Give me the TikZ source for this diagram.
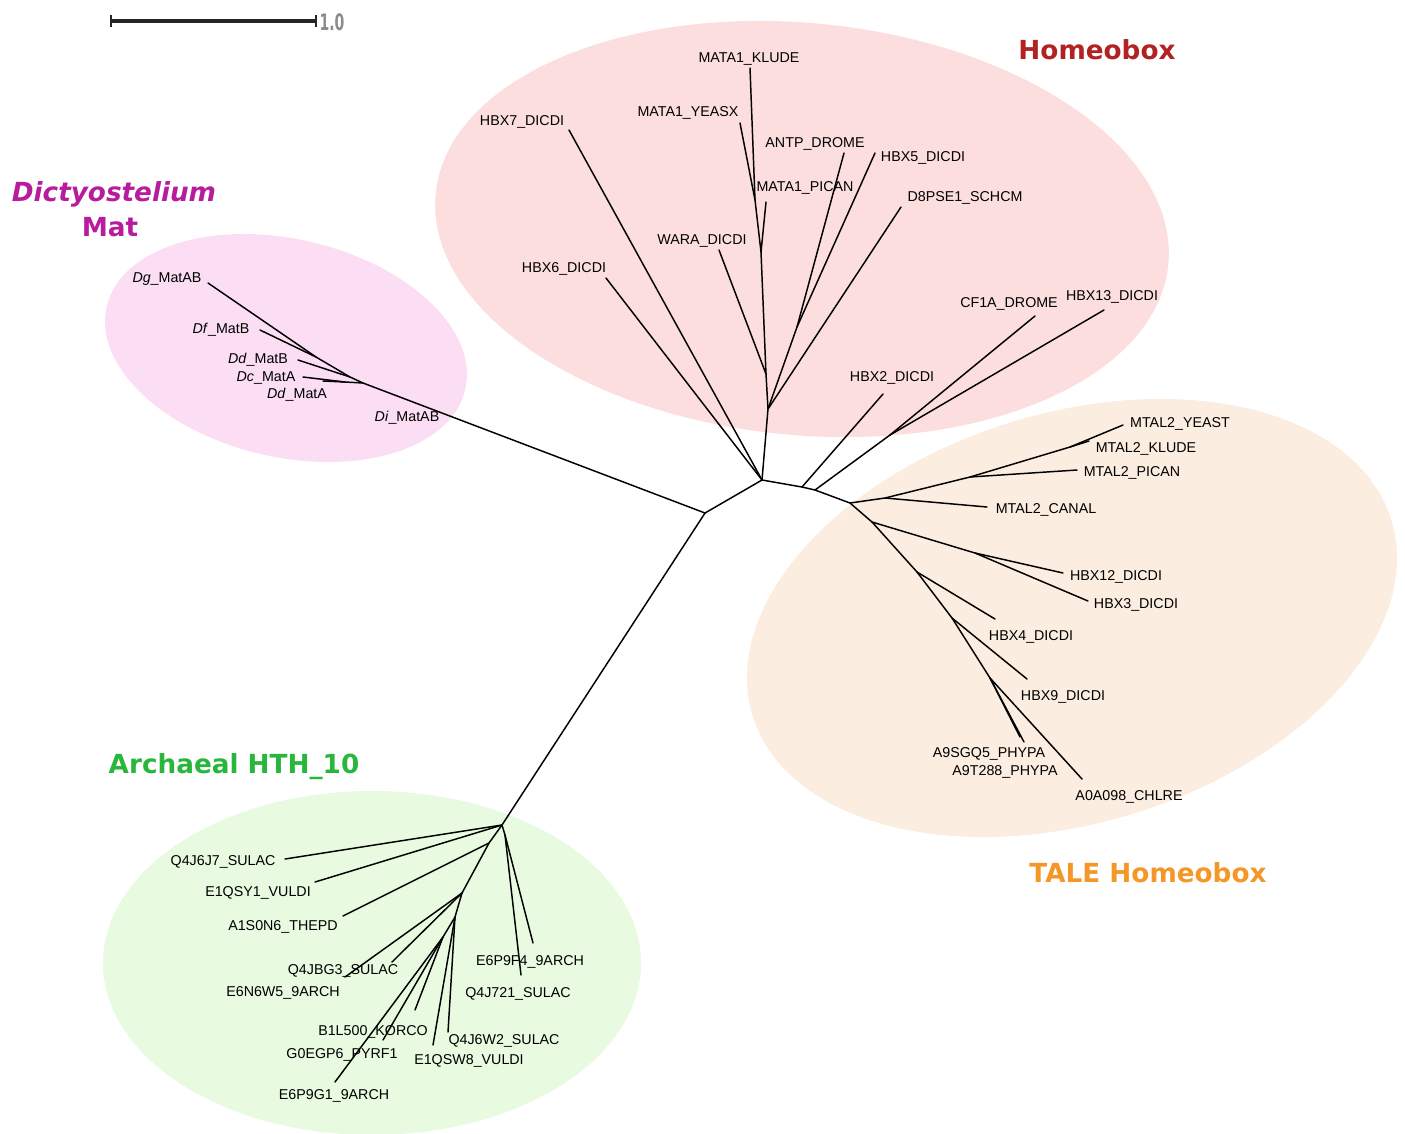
\documentclass[tikz,border=0pt]{standalone}
\usepackage{fontspec}
\setmainfont{Liberation Sans}
\newfontfamily\cladefont{DejaVu Sans}
\usetikzlibrary{positioning}
\definecolor{dictyfill}{RGB}{252,222,244}
\definecolor{homeofill}{RGB}{252,222,222}
\definecolor{talefill}{RGB}{251,237,223}
\definecolor{archfill}{RGB}{232,250,224}
\definecolor{dictytext}{RGB}{183,28,157}
\definecolor{homeotext}{RGB}{178,34,34}
\definecolor{taletext}{RGB}{245,150,40}
\definecolor{archtext}{RGB}{40,182,60}

\begin{document}
\begin{tikzpicture}[
    x=0.75pt, y=-0.75pt,
    branch/.style={line width=1.1pt, black, line cap=round},
    leaf/.style={inner sep=0pt, yshift=-1.5pt, font=\fontsize{10.7}{12}\selectfont},
    clade/.style={inner sep=0pt, yshift=-1.5pt, font=\cladefont\bfseries\fontsize{19.7}{23}\selectfont},
    blob/.style={fill=#1, draw=none}
]
\clip (0,0) rectangle (1405,1133);

% Clade backgrounds
\fill[blob=dictyfill, rotate around={-13:(286,348)}] (286,348) ellipse [x radius=184, y radius=109];
\fill[blob=homeofill, rotate around={-5.5:(802,229)}] (802,229) ellipse [x radius=368, y radius=206];
\fill[blob=talefill, rotate around={17:(1072,618)}] (1072,618) ellipse [x radius=334, y radius=205];
\fill[blob=archfill] (372,963) ellipse [x radius=269, y radius=172];

% Scale bar
\coordinate (s0) at (111,21);
\coordinate (s1) at (316,21);
\draw[line width=2.5pt, black!85] (s0) -- (s1);
\draw[line width=2.2pt, black!85] ([yshift=4.5pt]s0) -- ([yshift=-4.5pt]s0);
\draw[line width=2.2pt, black!85] ([yshift=4.5pt]s1) -- ([yshift=-4.5pt]s1);
\node[inner sep=0pt, text=black!45, font=\cladefont\bfseries\fontsize{17}{17}\selectfont] (scale) at (332,22) {\scalebox{0.62}[1]{1.0}};

% Backbone
\coordinate (A) at (705,513);
\coordinate (B) at (762,480);
\coordinate (C) at (802,487);
\coordinate (D) at (815,490);
\coordinate (E) at (850,503);
\draw[branch] (A) -- (B) -- (C) -- (D) -- (E);

% Dictyostelium Mat
\coordinate (dA) at (363,383);
\coordinate (dB) at (345,382);
\coordinate (dC) at (350,377);
\coordinate (dD) at (316,357);
\coordinate (tDg) at (208,283);
\coordinate (tDf) at (260,330);
\coordinate (tDdB) at (298,360);
\coordinate (tDc) at (303,377);
\coordinate (tDdA) at (323,381);
\draw[branch] (A) -- (dA);
\draw[branch] (dA) -- (dB) -- (tDc);
\draw[branch] (dB) -- (tDdA);
\draw[branch] (dA) -- (dC) -- (tDdB);
\draw[branch] (dC) -- (dD) -- (tDg);
\draw[branch] (dD) -- (tDf);
\node[leaf] (lDg) at (167,277) {\textit{Dg}\_MatAB};
\node[leaf] (lDf) at (221,328) {\textit{Df}\_MatB};
\node[leaf] (lDdB) at (258,358) {\textit{Dd}\_MatB};
\node[leaf] (lDc) at (266,376) {\textit{Dc}\_MatA};
\node[leaf] (lDdA) at (297,393) {\textit{Dd}\_MatA};
\node[leaf] (lDi) at (407,416) {\textit{Di}\_MatAB};

% Homeobox
\coordinate (hA) at (768,409);
\coordinate (hW) at (766,374);
\coordinate (hM) at (761,252);
\coordinate (hK) at (755,200);
\coordinate (hD) at (797,327);
\coordinate (hC) at (890,435);
\coordinate (tKLUDE) at (750,68);
\coordinate (tYEASX) at (740,123);
\coordinate (tPICAN) at (766,202);
\coordinate (tWARA) at (719,250);
\coordinate (tANTP) at (844,153);
\coordinate (tHBX5) at (875,153);
\coordinate (tD8PSE1) at (901,207);
\coordinate (tHBX7) at (569,130);
\coordinate (tHBX6) at (606,278);
\coordinate (tHBX2) at (883,394);
\coordinate (tCF1A) at (1035,316);
\coordinate (tHBX13) at (1104,310);
\draw[branch] (B) -- (hA) -- (hW) -- (hM) -- (hK) -- (tKLUDE);
\draw[branch] (hK) -- (tYEASX);
\draw[branch] (hM) -- (tPICAN);
\draw[branch] (hW) -- (tWARA);
\draw[branch] (hA) -- (hD) -- (tANTP);
\draw[branch] (hD) -- (tHBX5);
\draw[branch] (hA) -- (tD8PSE1);
\draw[branch] (B) -- (tHBX7);
\draw[branch] (B) -- (tHBX6);
\draw[branch] (C) -- (tHBX2);
\draw[branch] (D) -- (hC) -- (tCF1A);
\draw[branch] (hC) -- (tHBX13);
\node[leaf] (lKLUDE) at (749,57) {MATA1\_KLUDE};
\node[leaf] (lYEASX) at (688,111) {MATA1\_YEASX};
\node[leaf] (lHBX7) at (522,120) {HBX7\_DICDI};
\node[leaf] (lANTP) at (815,142) {ANTP\_DROME};
\node[leaf] (lHBX5) at (923,156) {HBX5\_DICDI};
\node[leaf] (lPICAN) at (805,186) {MATA1\_PICAN};
\node[leaf] (lD8PSE1) at (965,196) {D8PSE1\_SCHCM};
\node[leaf] (lWARA) at (702,239) {WARA\_DICDI};
\node[leaf] (lHBX6) at (564,267) {HBX6\_DICDI};
\node[leaf] (lCF1A) at (1009,302) {CF1A\_DROME};
\node[leaf] (lHBX13) at (1112,295) {HBX13\_DICDI};
\node[leaf] (lHBX2) at (892,376) {HBX2\_DICDI};

% TALE Homeobox
\coordinate (t1) at (885,498);
\coordinate (t2) at (970,477);
\coordinate (t3) at (1070,447);
\coordinate (t4) at (872,522);
\coordinate (t5) at (975,553);
\coordinate (t6) at (917,572);
\coordinate (t7) at (952,618);
\coordinate (t8) at (990,678);
\coordinate (tCANAL) at (987,507);
\coordinate (tMPICAN) at (1077,470);
\coordinate (tYEAST) at (1123,425);
\coordinate (tMKLUDE) at (1089,441);
\coordinate (tHBX12) at (1063,573);
\coordinate (tHBX3) at (1088,601);
\coordinate (tHBX4) at (995,619);
\coordinate (tHBX9) at (1027,679);
\coordinate (tA9SGQ5) at (1024,742);
\coordinate (tA9T288) at (1020,737);
\coordinate (tA0A098) at (1082,779);
\draw[branch] (E) -- (t1) -- (tCANAL);
\draw[branch] (t1) -- (t2) -- (tMPICAN);
\draw[branch] (t2) -- (t3) -- (tYEAST);
\draw[branch] (t3) -- (tMKLUDE);
\draw[branch] (E) -- (t4) -- (t5) -- (tHBX12);
\draw[branch] (t5) -- (tHBX3);
\draw[branch] (t4) -- (t6) -- (tHBX4);
\draw[branch] (t6) -- (t7) -- (tHBX9);
\draw[branch] (t7) -- (t8) -- (tA9SGQ5);
\draw[branch] (t8) -- (tA9T288);
\draw[branch] (t8) -- (tA0A098);
\node[leaf] (lYEAST) at (1180,422) {MTAL2\_YEAST};
\node[leaf] (lMKLUDE) at (1146,447) {MTAL2\_KLUDE};
\node[leaf] (lMPICAN) at (1132,471) {MTAL2\_PICAN};
\node[leaf] (lCANAL) at (1046,508) {MTAL2\_CANAL};
\node[leaf] (lHBX12) at (1116,575) {HBX12\_DICDI};
\node[leaf] (lHBX3) at (1136,603) {HBX3\_DICDI};
\node[leaf] (lHBX4) at (1031,635) {HBX4\_DICDI};
\node[leaf] (lHBX9) at (1063,695) {HBX9\_DICDI};
\node[leaf] (lA9SGQ5) at (989,752) {A9SGQ5\_PHYPA};
\node[leaf] (lA9T288) at (1005,770) {A9T288\_PHYPA};
\node[leaf] (lA0A098) at (1129,795) {A0A098\_CHLRE};

% Archaeal HTH_10
\coordinate (r0) at (502,825);
\coordinate (r1) at (489,843);
\coordinate (r2) at (462,893);
\coordinate (r3) at (455,917);
\coordinate (r4) at (443,937);
\coordinate (r5) at (505,835);
\coordinate (tQ4J6J7) at (285,859);
\coordinate (tE1QSY1) at (315,882);
\coordinate (tA1S0N6) at (343,916);
\coordinate (tQ4JBG3) at (392,962);
\coordinate (tE6N6W5) at (345,977);
\coordinate (tE1QSW8) at (433,1045);
\coordinate (tQ4J6W2) at (448,1032);
\coordinate (tB1L500) at (415,1010);
\coordinate (tG0EGP6) at (383,1040);
\coordinate (tE6P9G1) at (335,1082);
\coordinate (tE6P9F4) at (533,943);
\coordinate (tQ4J721) at (521,975);
\draw[branch] (A) -- (r0) -- (tQ4J6J7);
\draw[branch] (r0) -- (tE1QSY1);
\draw[branch] (r0) -- (r5) -- (tE6P9F4);
\draw[branch] (r5) -- (tQ4J721);
\draw[branch] (r0) -- (r1) -- (tA1S0N6);
\draw[branch] (r1) -- (r2) -- (tQ4JBG3);
\draw[branch] (r2) -- (tE6N6W5);
\draw[branch] (r2) -- (r3) -- (tE1QSW8);
\draw[branch] (r3) -- (tQ4J6W2);
\draw[branch] (r3) -- (r4) -- (tB1L500);
\draw[branch] (r4) -- (tG0EGP6);
\draw[branch] (r4) -- (tE6P9G1);
\node[leaf] (lQ4J6J7) at (223,860) {Q4J6J7\_SULAC};
\node[leaf] (lE1QSY1) at (258,891) {E1QSY1\_VULDI};
\node[leaf] (lA1S0N6) at (283,925) {A1S0N6\_THEPD};
\node[leaf] (lE6P9F4) at (530,960) {E6P9F4\_9ARCH};
\node[leaf] (lQ4JBG3) at (343,969) {Q4JBG3\_SULAC};
\node[leaf] (lE6N6W5) at (283,991) {E6N6W5\_9ARCH};
\node[leaf] (lQ4J721) at (518,992) {Q4J721\_SULAC};
\node[leaf] (lB1L500) at (373,1030) {B1L500\_KORCO};
\node[leaf] (lQ4J6W2) at (504,1039) {Q4J6W2\_SULAC};
\node[leaf] (lG0EGP6) at (342,1053) {G0EGP6\_PYRF1};
\node[leaf] (lE1QSW8) at (469,1059) {E1QSW8\_VULDI};
\node[leaf] (lE6P9G1) at (334,1094) {E6P9G1\_9ARCH};

% Clade titles
\node[clade, text=homeotext] (homeo) at (1097,48) {Homeobox};
\node[clade, text=dictytext] (dicty) at (114,192) {\itshape Dictyostelium};
\node[clade, text=dictytext] (mat) at (110,225) {Mat};
\node[clade, text=archtext] (arch) at (234,765) {Archaeal HTH\_10};
\node[clade, text=taletext] (tale) at (1148,871) {TALE Homeobox};
\end{tikzpicture}
\end{document}
